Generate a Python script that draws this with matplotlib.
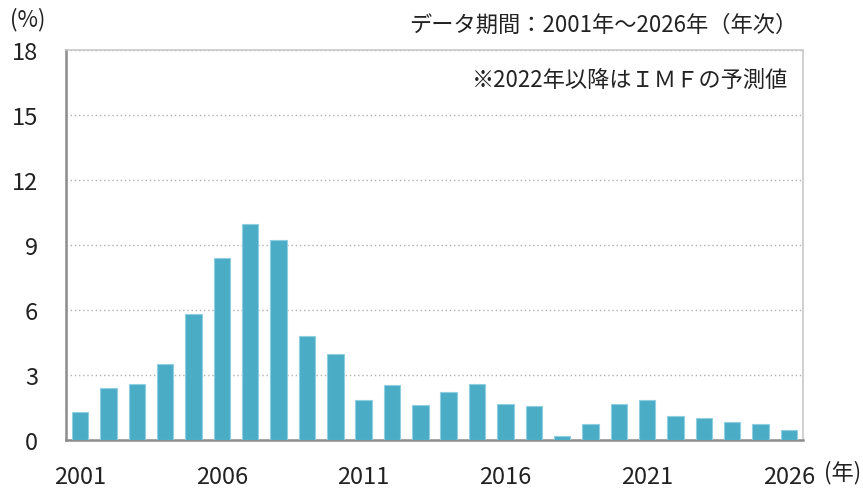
#!/usr/bin/env python3

import numpy as np
import matplotlib.pyplot as plt

plt.rcParams['font.family'] = ['Noto Sans CJK JP', 'DejaVu Sans']

years = list(range(2001, 2027))
values = [1.31, 2.41, 2.59, 3.51, 5.81, 8.39, 9.95, 9.23, 4.80, 3.97,
          1.86, 2.52, 1.60, 2.23, 2.59, 1.67, 1.58, 0.20, 0.75, 1.67,
          1.86, 1.12, 1.03, 0.85, 0.75, 0.48]
yTicks = [0, 3, 6, 9, 12, 15, 18]
tickYears = [2001, 2006, 2011, 2016, 2021, 2026]


def main():
    fig = plt.figure(figsize=(8.63, 4.89), dpi=100)
    ax = fig.add_axes([0.0765, 0.0982, 0.854, 0.7975])

    x = np.arange(len(years))
    ax.bar(x, values, width=0.58, color="#4BACC6", edgecolor="#8fd0e0",
           linewidth=0.8, zorder=3)

    ax.set_xlim(-0.5, len(years) - 0.5)
    ax.set_ylim(0, 18)
    ax.set_yticks(yTicks)
    ax.set_yticklabels([str(t) for t in yTicks], fontsize=17)
    ax.set_xticks([years.index(y) for y in tickYears])
    ax.set_xticklabels([str(y) for y in tickYears], fontsize=17)
    ax.tick_params(axis="both", length=0, colors="#222222")
    ax.tick_params(axis="x", pad=18)
    ax.tick_params(axis="y", pad=20)

    ax.grid(axis="y", linestyle=(0, (1, 2)), color="#b0b0b0", linewidth=1, zorder=0)

    for side in ["left", "bottom"]:
        ax.spines[side].set_color("#8c8c8c")
        ax.spines[side].set_linewidth(1.8)
    for side in ["top", "right"]:
        ax.spines[side].set_color("#c8c8c8")
        ax.spines[side].set_linewidth(1.2)

    fig.text(10 / 863, 1 - 20 / 489, "(%)", fontsize=16, va="center", ha="left",
             color="#222222")
    fig.text(797 / 863, 1 - 25 / 489, "データ期間：2001年～2026年（年次）",
             fontsize=16, va="center", ha="right", color="#222222")
    ax.text(0.98, 0.925, "※2022年以降はＩＭＦの予測値", transform=ax.transAxes,
            fontsize=16, va="center", ha="right", color="#222222")
    fig.text(824 / 863, 1 - 473 / 489, "(年)", fontsize=16, va="center",
             ha="left", color="#222222")

    fig.savefig("out.png", dpi=100)


if __name__ == "__main__":
    main()
